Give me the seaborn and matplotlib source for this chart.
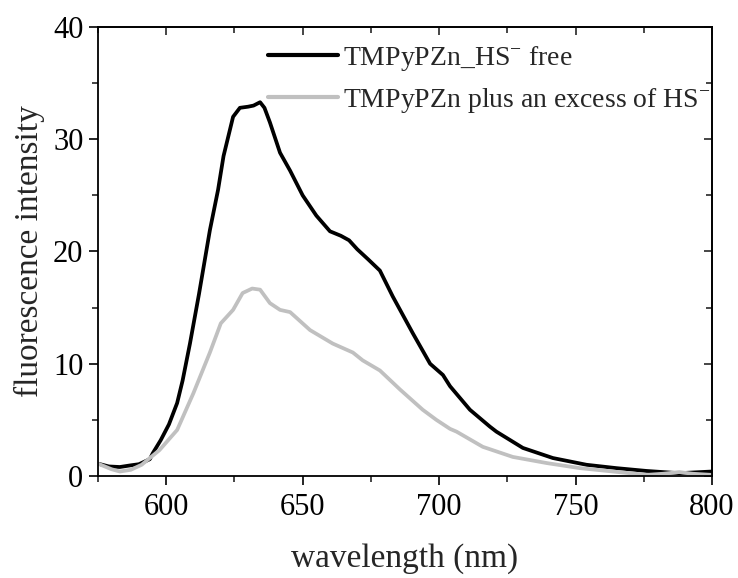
import numpy as np
import pandas as pd
import matplotlib
matplotlib.use("Agg")
import matplotlib.pyplot as plt
import seaborn as sns
from matplotlib.ticker import MultipleLocator

# ---- data ----
wl_free = [575, 579, 583, 587, 590, 594, 595, 598, 601, 604, 606, 608.7, 612, 616, 619, 621,
           624.5, 627, 630, 632, 634.4, 636, 638, 641.7, 645.4, 650, 655, 660, 664, 667, 670,
           674, 678.3, 683, 690.4, 696.7, 701.4, 704, 711.3, 718.6, 721, 730.7, 741.7, 754,
           765, 776, 788, 800]
int_free = [1.1, 0.85, 0.8, 0.95, 1.05, 1.5, 2.0, 3.2, 4.6, 6.5, 8.5, 11.8, 16.2, 21.9, 25.5, 28.5,
            32.0, 32.8, 32.9, 33.0, 33.3, 32.8, 31.5, 28.8, 27.2, 25.0, 23.2, 21.8, 21.4, 21.0, 20.2,
            19.3, 18.3, 16.0, 12.7, 10.0, 9.0, 8.0, 5.9, 4.4, 3.95, 2.5, 1.6, 1.0,
            0.7, 0.45, 0.25, 0.4]

wl_hs = [575, 580, 583, 587, 591, 594, 597.5, 604, 610, 616, 620, 624.5, 628, 631.5, 634.4, 638,
         641.7, 645.4, 652.7, 661, 668.4, 672, 678.3, 685.7, 694, 699, 704, 706.4, 716, 727,
         739.5, 751.6, 763.7, 776, 782, 788, 793, 800]
int_hs = [1.1, 0.6, 0.4, 0.55, 1.0, 1.6, 2.3, 4.1, 7.4, 11.0, 13.6, 14.8, 16.3, 16.7, 16.6, 15.4,
          14.8, 14.6, 13.0, 11.8, 11.0, 10.3, 9.4, 7.7, 5.9, 5.0, 4.2, 3.95, 2.6, 1.7,
          1.15, 0.7, 0.4, 0.1, 0.2, 0.35, 0.2, 0.1]

label_free = "TMPyPZn_HS$^{-}$ free"
label_hs = "TMPyPZn plus an excess of HS$^{-}$"

df = pd.concat([
    pd.DataFrame({"wavelength": wl_free, "intensity": int_free, "series": label_free}),
    pd.DataFrame({"wavelength": wl_hs, "intensity": int_hs, "series": label_hs}),
])

sns.set_style("ticks")
plt.rcParams["font.family"] = ["Liberation Serif", "DejaVu Serif"]
plt.rcParams["mathtext.fontset"] = "custom"
plt.rcParams["mathtext.rm"] = "Liberation Serif"
plt.rcParams["mathtext.it"] = "Liberation Serif:italic"

fig = plt.figure(figsize=(7.38, 5.78), dpi=100)
ax = fig.add_axes([98/738, 1 - 476/578, (712-98)/738, (476-27)/578])

sns.lineplot(data=df, x="wavelength", y="intensity", hue="series",
             palette={label_free: "black", label_hs: "#c0c0c0"},
             linewidth=2.7, ax=ax, sort=False, estimator=None)

ax.set_xlim(575, 800)
ax.set_ylim(0, 40)
ax.xaxis.set_major_locator(MultipleLocator(50))
ax.xaxis.set_minor_locator(MultipleLocator(25))
ax.yaxis.set_major_locator(MultipleLocator(10))
ax.yaxis.set_minor_locator(MultipleLocator(5))

for s in ax.spines.values():
    s.set_visible(True)
    s.set_linewidth(1.3)
    s.set_color("black")

ax.tick_params(axis="x", which="major", pad=6)
ax.tick_params(axis="y", which="major", pad=4)
ax.tick_params(axis="both", which="major", direction="out", length=6.5, width=1.2,
               labelsize=22, colors="black")
ax.tick_params(axis="both", which="minor", direction="out", length=4, width=1.2)
ax.tick_params(axis="both", which="both", top=False, right=False)

# mirrored inward ticks on top and right
sec_x = ax.secondary_xaxis("top")
sec_x.xaxis.set_major_locator(MultipleLocator(50))
sec_x.xaxis.set_minor_locator(MultipleLocator(25))
sec_x.tick_params(which="major", direction="in", length=6, width=1.2, labeltop=False)
sec_x.tick_params(which="minor", direction="in", length=4, width=1.2)
sec_x.spines["top"].set_linewidth(1.3)
sec_y = ax.secondary_yaxis("right")
sec_y.yaxis.set_major_locator(MultipleLocator(10))
sec_y.yaxis.set_minor_locator(MultipleLocator(5))
sec_y.tick_params(which="major", direction="in", length=6, width=1.2, labelright=False)
sec_y.tick_params(which="minor", direction="in", length=4, width=1.2)
sec_y.spines["right"].set_linewidth(1.3)

ax.set_xlabel("wavelength (nm)", fontsize=24, labelpad=15)
ax.set_ylabel("fluorescence intensity", fontsize=24, labelpad=6)

leg = ax.legend(loc="upper left", bbox_to_anchor=(0.246, 1.005), frameon=False,
                fontsize=20, handlelength=2.5, handletextpad=0.2,
                labelspacing=0.45, borderaxespad=0.3)
for line in leg.get_lines():
    line.set_linewidth(3.0)

fig.savefig("out.png", dpi=100)
